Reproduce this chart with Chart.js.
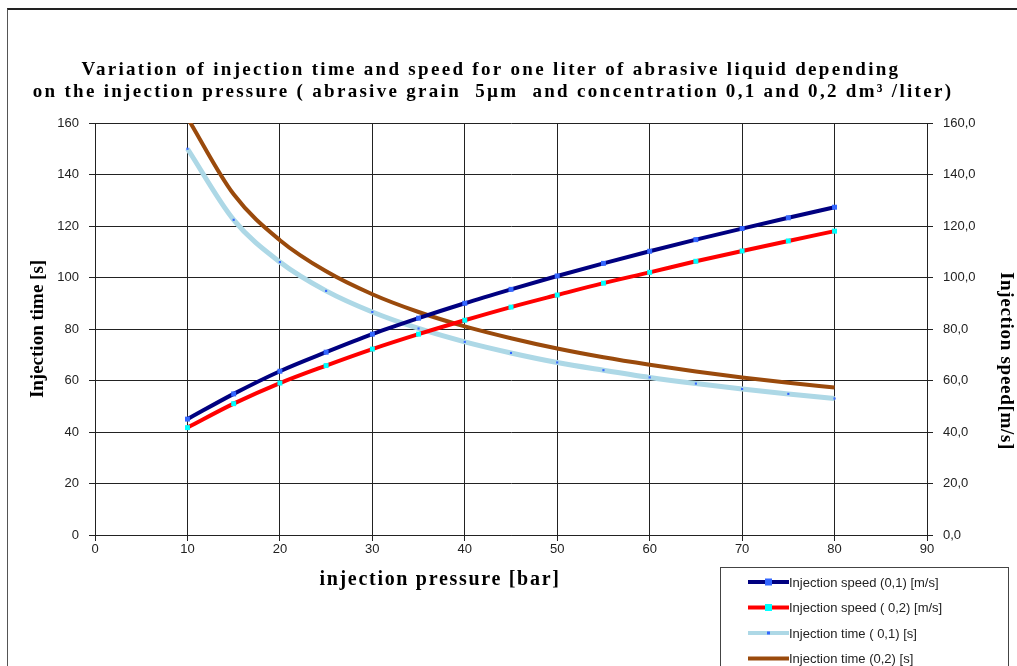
<!DOCTYPE html>
<html>
<head>
<meta charset="utf-8">
<script src="https://cdn.jsdelivr.net/npm/chart.js@4.4.0/dist/chart.umd.min.js"></script>
<style>
  body { margin: 0; background: #fff; overflow: hidden; }
  #marco { position: absolute; left: 7px; top: 8px; width: 1030px; height: 680px; border-left: 1px solid #555; border-top: 2px solid #222; }
  #grafico { position: absolute; left: 0; top: 0; }
</style>
</head>
<body>
<div id="marco"></div>
<canvas id="grafico" width="1017" height="666"></canvas>
<script>
// Datos
const presiones = [10, 15, 20, 25, 30, 35, 40, 45, 50, 55, 60, 65, 70, 75, 80];
const velocidad01 = [45, 54.8, 63.6, 71, 78, 84.2, 90, 95.4, 100.6, 105.5, 110.2, 114.7, 119, 123.2, 127.3];
const velocidad02 = [41.7, 51, 59, 65.8, 72.2, 78, 83.4, 88.5, 93.2, 97.8, 102, 106.3, 110.3, 114.2, 118];
const tiempo01 = [150, 122.4, 106, 94.8, 86.6, 80.2, 75, 70.7, 67, 64, 61.2, 58.8, 56.7, 54.8, 53];
const tiempo02 = [162, 132.3, 114.5, 102.4, 93.5, 86.6, 81, 76.4, 72.4, 69, 66.1, 63.5, 61.2, 59.1, 57.3];

const tituloLineas = [
    'Variation of injection time and speed for one liter of abrasive liquid depending',
    'on the injection pressure ( abrasive grain  5\u00b5m  and concentration 0,1 and 0,2 dm\u00b3 /liter)'
];
const tituloX = 'injection pressure [bar]';
const tituloY2 = 'Injection speed[m/s]';

function puntos(valores) {
    return presiones.map((p, i) => ({x: p, y: valores[i]}));
}

// titulos dibujados a mano (con espaciado como en la imagen)
const tituloPlugin = {
    id: 'tituloPlugin',
    afterDraw(chart) {
        const ctx = chart.ctx;
        ctx.save();
        ctx.fillStyle = '#000';
        ctx.textAlign = 'center';
        ctx.textBaseline = 'middle';
        ctx.font = 'bold 19px "Liberation Serif"';
        ctx.letterSpacing = '2.3px';
        ctx.fillText(tituloLineas[0], 491, 70);
        ctx.fillText(tituloLineas[1], 493, 92);

        ctx.font = 'bold 20px "Liberation Serif"';
        ctx.letterSpacing = '1.7px';
        ctx.fillText(tituloX, 440, 580);

        ctx.font = 'bold 19px "Liberation Serif"';
        ctx.letterSpacing = '0.7px';
        ctx.translate(1006, 361);
        ctx.rotate(Math.PI / 2);
        ctx.fillText(tituloY2, 0, 0);
        ctx.restore();
    }
};

// leyenda con borde abajo a la derecha
const leyendaPlugin = {
    id: 'leyendaPlugin',
    afterDraw(chart) {
        const ctx = chart.ctx;
        ctx.save();
        ctx.fillStyle = '#fff';
        ctx.fillRect(720, 567, 288, 110);
        ctx.strokeStyle = '#444';
        ctx.lineWidth = 1;
        ctx.strokeRect(720.5, 567.5, 288, 110);
        chart.data.datasets.forEach((ds, i) => {
            const y = 582 + i * 25.5;
            ctx.strokeStyle = ds.borderColor;
            ctx.lineWidth = 4;
            ctx.beginPath();
            ctx.moveTo(748, y);
            ctx.lineTo(789, y);
            ctx.stroke();
            if (ds.pointRadius > 0) {
                const r = ds.pointRadius;
                ctx.fillStyle = ds.pointBackgroundColor;
                ctx.fillRect(768.5 - r, y - r, 2 * r, 2 * r);
            }
            ctx.fillStyle = '#222';
            ctx.font = '13px "Liberation Sans"';
            ctx.textAlign = 'left';
            ctx.textBaseline = 'middle';
            ctx.fillText(ds.label, 789, y + 1);
        });
        ctx.restore();
    }
};

const ctx = document.getElementById('grafico').getContext('2d');

new Chart(ctx, {
    type: 'line',
    data: {
        datasets: [{
            label: 'Injection speed (0,1) [m/s]',
            data: puntos(velocidad01),
            yAxisID: 'y2',
            borderColor: '#000080',
            borderWidth: 4,
            pointStyle: 'rect',
            pointRadius: 3.5,
            pointBackgroundColor: '#3366ff',
            pointBorderWidth: 0,
            cubicInterpolationMode: 'monotone',
            fill: false
        }, {
            label: 'Injection speed ( 0,2) [m/s]',
            data: puntos(velocidad02),
            yAxisID: 'y2',
            borderColor: '#ff0000',
            borderWidth: 4,
            pointStyle: 'rect',
            pointRadius: 3.5,
            pointBackgroundColor: '#00ffff',
            pointBorderWidth: 0,
            cubicInterpolationMode: 'monotone',
            fill: false
        }, {
            label: 'Injection time ( 0,1) [s]',
            data: puntos(tiempo01),
            yAxisID: 'y',
            borderColor: '#add8e6',
            borderWidth: 5,
            pointStyle: 'rect',
            pointRadius: 1.5,
            pointBackgroundColor: '#3366ff',
            pointBorderWidth: 0,
            cubicInterpolationMode: 'monotone',
            fill: false
        }, {
            label: 'Injection time (0,2) [s]',
            data: puntos(tiempo02),
            yAxisID: 'y',
            borderColor: '#9a4a0c',
            borderWidth: 4,
            pointRadius: 0,
            pointBackgroundColor: '#9a4a0c',
            cubicInterpolationMode: 'monotone',
            fill: false
        }]
    },
    options: {
        responsive: false,
        animation: false,
        layout: {
            padding: {top: 123, left: 0, right: 0, bottom: 61}
        },
        scales: {
            x: {
                type: 'linear',
                position: 'bottom',
                min: 0,
                max: 90,
                afterFit: function (scale) { scale.height = 70; },
                ticks: {
                    stepSize: 10,
                    color: '#222',
                    padding: 1,
                    font: {family: 'Liberation Sans', size: 13}
                },
                grid: {
                    color: '#222',
                    tickLength: 6
                },
                border: {color: '#222'}
            },
            y: {
                position: 'left',
                min: 0,
                max: 160,
                afterFit: function (scale) { scale.width = 95; },
                ticks: {
                    stepSize: 20,
                    color: '#222',
                    padding: 10,
                    font: {family: 'Liberation Sans', size: 13}
                },
                grid: {
                    color: '#222',
                    tickLength: 6
                },
                border: {color: '#222'},
                title: {
                    display: true,
                    text: 'Injection time [s]',
                    color: '#000',
                    padding: {top: 27, bottom: 0},
                    font: {family: 'Liberation Serif', size: 19, weight: 'bold'}
                }
            },
            y2: {
                position: 'right',
                min: 0,
                max: 160,
                afterFit: function (scale) { scale.width = 90; },
                ticks: {
                    stepSize: 20,
                    color: '#222',
                    padding: 10,
                    font: {family: 'Liberation Sans', size: 13},
                    callback: function (valor) { return valor.toFixed(1).replace('.', ','); }
                },
                grid: {
                    drawOnChartArea: false,
                    color: '#222',
                    tickLength: 6
                },
                border: {color: '#222'}
            }
        },
        plugins: {
            legend: {display: false},
            tooltip: {enabled: false}
        }
    },
    plugins: [tituloPlugin, leyendaPlugin]
});
</script>
</body>
</html>
